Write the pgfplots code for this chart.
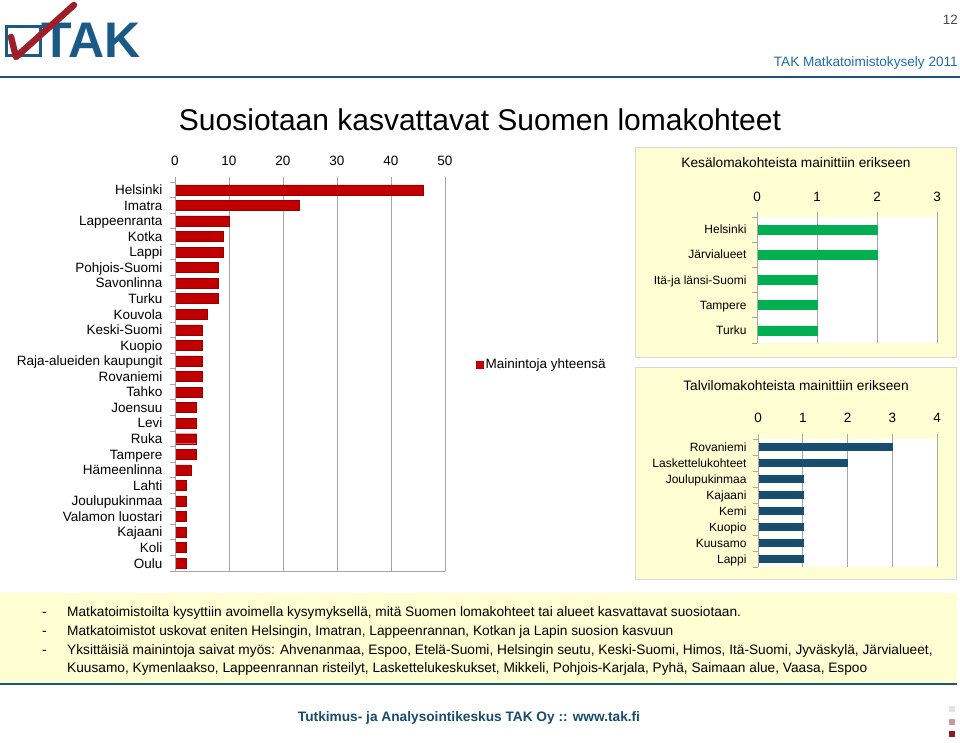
\documentclass[border=0pt]{standalone}
\usepackage{fontspec}
\setmainfont{Liberation Sans}
\usepackage{pgfplots}
\pgfplotsset{compat=1.18}

\definecolor{mainred}{RGB}{192,0,0}
\definecolor{sgreen}{RGB}{0,176,80}
\definecolor{wblue}{RGB}{23,78,112}
\definecolor{gridgray}{RGB}{166,166,166}
\definecolor{boxyellow}{RGB}{255,253,210}
\definecolor{boxborder}{RGB}{215,215,215}
\definecolor{hdrblue}{RGB}{31,108,170}
\definecolor{lineblue}{RGB}{30,85,125}
\definecolor{logoblue}{RGB}{27,90,135}
\definecolor{logored}{RGB}{160,30,40}
\definecolor{footblue}{RGB}{25,75,110}
\definecolor{sqA}{RGB}{234,224,228}
\definecolor{sqB}{RGB}{200,155,158}
\definecolor{sqC}{RGB}{139,26,31}

\pgfplotsset{
  chartbase/.style={
    scale only axis, anchor=south west, xbar,
    axis line style={draw=none},
    xtick pos=right, xticklabel pos=right, ytick pos=left,
    tick align=outside, major tick length=0pt, minor tick length=5pt,
    tick style={gridgray, line width=0.8pt},
    xmajorgrids, grid style={gridgray, line width=1pt},
    typeset ticklabels with strut,
    /pgf/number format/assume math mode=true,
  }
}

\begin{document}
\begin{tikzpicture}
\useasboundingbox (0,0) rectangle (960pt,742pt);

% backgrounds
\begin{scope}[yshift=742pt, x=1pt, y=-1pt]
  \draw[boxborder, fill=boxyellow] (635.5,147.5) rectangle (956.5,357.5);
  \draw[boxborder, fill=boxyellow] (635.5,367.5) rectangle (956.5,579.5);
  \fill[boxyellow] (0,593) rectangle (957,684);
  \draw[lineblue, line width=2.5pt] (0,684) -- (957,684);
\end{scope}

% main chart
\begin{axis}[chartbase,
  at={(175pt,171pt)}, width=270pt, height=389pt,
  bar width=10pt,
  xmin=0, xmax=50, ymin=-0.5, ymax=24.5,
  xtick={0,10,...,50}, minor xtick={0,10,...,50},
  ytick={0,...,24},
  minor ytick={-0.5,0.5,...,24.5},
  yticklabels={Oulu,Koli,Kajaani,Valamon luostari,Joulupukinmaa,Lahti,Hämeenlinna,Tampere,Ruka,Levi,Joensuu,Tahko,Rovaniemi,Raja-alueiden kaupungit,Kuopio,Keski-Suomi,Kouvola,Turku,Savonlinna,Pohjois-Suomi,Lappi,Kotka,Lappeenranta,Imatra,Helsinki},
  xticklabel style={font=\fontsize{13.5}{14}\selectfont, yshift=9pt},
  yticklabel style={font=\fontsize{13.5}{14}\selectfont, xshift=-9pt, yshift=-2pt},
  legend style={at={(1.104,0.53)}, anchor=west, draw=none, fill=none,
    font=\fontsize{13.5}{14}\selectfont},
  legend image code/.code={\fill[mainred] (0pt,-3.5pt) rectangle (7pt,3.5pt);},
]
\addplot[fill=mainred, draw=mainred!80!black] coordinates {
 (46,24) (23,23) (10,22) (9,21) (9,20) (8,19) (8,18) (8,17) (6,16)
 (5,15) (5,14) (5,13) (5,12) (5,11) (4,10) (4,9) (4,8) (4,7) (3,6)
 (2,5) (2,4) (2,3) (2,2) (2,1) (2,0)};
\addlegendentry{Mainintoja yhteensä}
\draw[gridgray, line width=1pt] (rel axis cs:0,1) -- (rel axis cs:0,0) -- (rel axis cs:1,0);
\end{axis}

% summer chart
\begin{axis}[chartbase,
  at={(757pt,399pt)}, width=180pt, height=126pt,
  axis background/.style={fill=white},
  bar width=9pt,
  xmin=0, xmax=3, ymin=-0.5, ymax=4.5,
  xtick={0,1,2,3}, minor xtick={0,1,2,3},
  ytick={0,...,4}, minor ytick={-0.5,0.5,...,4.5},
  yticklabels={Turku,Tampere,Itä-ja länsi-Suomi,Järvialueet,Helsinki},
  xticklabel style={font=\fontsize{13.5}{14}\selectfont, yshift=8pt},
  yticklabel style={font=\fontsize{12}{13}\selectfont, xshift=-7pt, yshift=-1.5pt},
]
\addplot[fill=sgreen, draw=sgreen] coordinates {(2,4) (2,3) (1,2) (1,1) (1,0)};
\draw[gridgray, line width=1pt] (rel axis cs:0,1) -- (rel axis cs:0,0);
\end{axis}

% winter chart
\begin{axis}[chartbase,
  at={(758pt,175pt)}, width=179pt, height=128pt,
  axis background/.style={fill=white},
  bar width=7pt,
  xmin=0, xmax=4, ymin=-0.5, ymax=7.5,
  xtick={0,1,2,3,4}, minor xtick={0,1,2,3,4},
  ytick={0,...,7}, minor ytick={-0.5,0.5,...,7.5},
  yticklabels={Lappi,Kuusamo,Kuopio,Kemi,Kajaani,Joulupukinmaa,Laskettelukohteet,Rovaniemi},
  xticklabel style={font=\fontsize{13.5}{14}\selectfont, yshift=9pt},
  yticklabel style={font=\fontsize{12}{13}\selectfont, xshift=-8pt, yshift=-1.5pt},
]
\addplot[fill=wblue, draw=wblue] coordinates {(3,7) (2,6) (1,5) (1,4) (1,3) (1,2) (1,1) (1,0)};
\draw[gridgray, line width=1pt] (rel axis cs:0,1) -- (rel axis cs:0,0);
\end{axis}

% texts and decorations
\begin{scope}[yshift=742pt, x=1pt, y=-1pt]
  % logo
  \draw[logoblue, line width=3pt] (6,27) rectangle (40,56);
  \node[anchor=base west, inner sep=0pt, text=logoblue,
        font=\fontsize{50}{50}\selectfont\bfseries] at (41,58) {TAK};
  \draw[logored, line width=6.5pt, line cap=round, line join=round]
        (11,37) -- (16,57) -- (74,5);
  % header
  \node[anchor=base east, inner sep=0pt, text=black!70,
        font=\fontsize{13.5}{14}\selectfont] at (958,25) {12};
  \node[anchor=base east, inner sep=0pt, text=hdrblue,
        font=\fontsize{13.6}{14}\selectfont] at (958,67) {TAK Matkatoimistokysely 2011};
  \draw[lineblue, line width=2pt] (0,77) -- (960,77);
  % title
  \node[inner sep=0pt, font=\fontsize{30}{30}\selectfont] at (480,120)
        {Suosiotaan kasvattavat Suomen lomakohteet};
  % small chart titles
  \node[inner sep=0pt, font=\fontsize{13.7}{14}\selectfont] at (796,163)
        {Kesälomakohteista mainittiin erikseen};
  \node[inner sep=0pt, font=\fontsize{13.7}{14}\selectfont] at (796,386)
        {Talvilomakohteista mainittiin erikseen};
  % bullet text
  \begin{scope}[every node/.style={anchor=base west, inner sep=0pt,
        font=\fontsize{13.7}{14}\selectfont}]
    \node at (42,616.5) {-};
    \node at (67,616.5) {Matkatoimistoilta kysyttiin avoimella kysymyksellä, mitä Suomen lomakohteet tai alueet kasvattavat suosiotaan.};
    \node at (42,635.5) {-};
    \node at (67,635.5) {Matkatoimistot uskovat eniten Helsingin, Imatran, Lappeenrannan, Kotkan ja Lapin suosion kasvuun};
    \node at (42,654.5) {-};
    \node at (67,654.5) {Yksittäisiä mainintoja saivat myös: Ahvenanmaa, Espoo, Etelä-Suomi, Helsingin seutu, Keski-Suomi, Himos, Itä-Suomi, Jyväskylä, Järvialueet,};
    \node at (67,672.5) {Kuusamo, Kymenlaakso, Lappeenrannan risteilyt, Laskettelukeskukset, Mikkeli, Pohjois-Karjala, Pyhä, Saimaan alue, Vaasa, Espoo};
  \end{scope}
  % footer
  \node[inner sep=0pt, text=footblue, font=\fontsize{13.7}{14}\selectfont\bfseries]
        at (469,718) {Tutkimus- ja Analysointikeskus TAK Oy :: www.tak.fi};
  \fill[sqA] (949,706) rectangle (955,712);
  \fill[sqB] (949,719) rectangle (955,725);
  \fill[sqC] (949,731) rectangle (955,737);
\end{scope}
\end{tikzpicture}
\end{document}
